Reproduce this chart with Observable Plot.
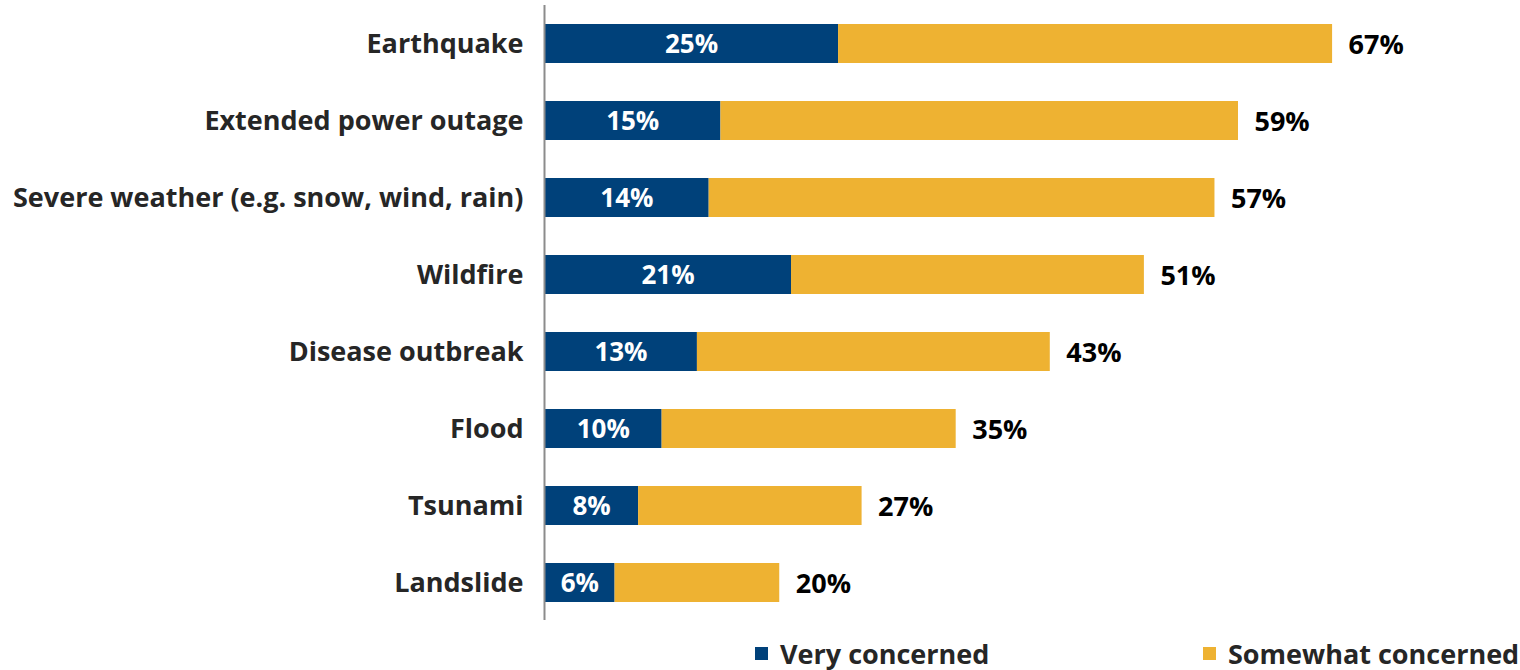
<!DOCTYPE html>
<html>
<head>
<meta charset="utf-8">
<script src="https://cdn.jsdelivr.net/npm/d3@7"></script>
<script src="https://cdn.jsdelivr.net/npm/@observablehq/plot@0.6"></script>
<style>
  html, body { margin: 0; padding: 0; background: #fff; }
  #wrap { width: 1520px; position: relative; font-family: "Open Sans", Lato, sans-serif; }
  #legend { position: relative; height: 40px; width: 1520px; }
  .li { position: absolute; top: 6px; display: flex; align-items: center; height: 34px; font-weight: 700; font-size: 27px; color: #262626; }
  .sw { width: 13px; height: 13px; margin-right: 12px; }
</style>
</head>
<body>
<div id="wrap"></div>
<script>
const categories = ["Earthquake", "Extended power outage", "Severe weather (e.g. snow, wind, rain)", "Wildfire", "Disease outbreak", "Flood", "Tsunami", "Landslide"];
const veryConcerned = [25, 15, 14, 21, 13, 10, 8, 6];
const totalConcerned = [67, 59, 57, 51, 43, 35, 27, 20];
const seriesNames = ["Very concerned", "Somewhat concerned"];
const seriesColors = ["#00417A", "#EEB232"];

const rows = [];
categories.forEach((c, i) => {
  rows.push({cat: c, series: seriesNames[0], x1: 0, x2: veryConcerned[i]});
  rows.push({cat: c, series: seriesNames[1], x1: veryConcerned[i], x2: totalConcerned[i]});
});
const inner = categories.map((c, i) => ({cat: c, v: veryConcerned[i]}));
const outer = categories.map((c, i) => ({cat: c, v: totalConcerned[i]}));

const chart = Plot.plot({
  width: 1520,
  height: 630,
  marginLeft: 544,
  marginRight: 35,
  marginTop: 5,
  marginBottom: 10,
  style: {fontFamily: "'Open Sans', Lato, sans-serif", background: "#fff"},
  x: {domain: [0, 80], axis: null},
  y: {domain: categories, padding: 0.5, paddingOuter: 0.23, label: null},
  color: {domain: seriesNames, range: seriesColors},
  axis: null,
  marks: [
    Plot.barX(rows, {y: "cat", x1: "x1", x2: "x2", fill: "series"}),
    Plot.ruleX([0], {stroke: "#8c8c8c", strokeWidth: 2}),
    Plot.axisY({tickSize: 0, tickPadding: 21, fontSize: 27, fontWeight: 700, fill: "#262626", label: null}),
    Plot.text(inner, {y: "cat", x: d => d.v / 2, text: d => d.v + "%", fill: "white", fontSize: 26, fontWeight: 700, dy: 1}),
    Plot.text(outer, {y: "cat", x: "v", text: d => d.v + "%", fill: "black", fontSize: 27, fontWeight: 700, textAnchor: "start", dx: 16, dy: 1})
  ]
});
document.getElementById("wrap").appendChild(chart);

const legend = document.createElement("div");
legend.id = "legend";
const lx = [755, 1203];
seriesNames.forEach((n, i) => {
  const it = document.createElement("div");
  it.className = "li";
  it.style.left = lx[i] + "px";
  it.innerHTML = `<span class="sw" style="background:${seriesColors[i]}"></span><span>${n}</span>`;
  legend.appendChild(it);
});
document.getElementById("wrap").appendChild(legend);
</script>
</body>
</html>
